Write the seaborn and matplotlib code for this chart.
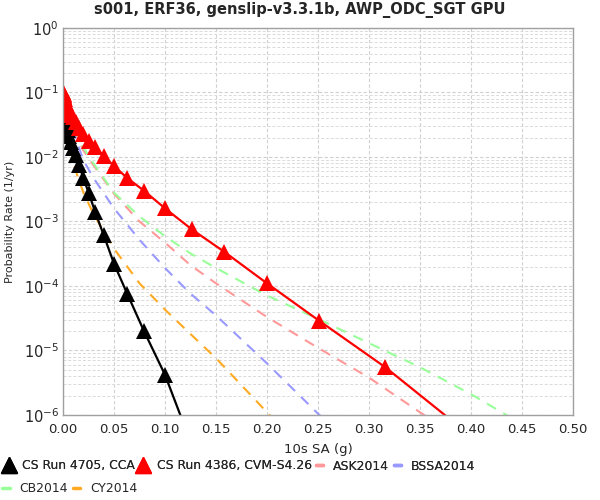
import matplotlib
matplotlib.use("Agg")
import matplotlib.pyplot as plt
from matplotlib.lines import Line2D
import matplotlib.ticker as mticker
import numpy as np
import seaborn as sns

# --------- Datos ---------

# IMs de CyberShake (espaciado log)
cs_sa = [0.0001, 0.00013, 0.00016, 0.0002, 0.00025, 0.00032, 0.0004, 0.0005,
         0.00063, 0.00079, 0.001, 0.0013, 0.0016, 0.002, 0.0025, 0.0032,
         0.004, 0.005, 0.0063, 0.0079, 0.01, 0.0126, 0.0158, 0.02, 0.0251,
         0.0316, 0.0398, 0.0501, 0.0631, 0.0794, 0.1, 0.126, 0.158, 0.2,
         0.251, 0.316, 0.398]

cca_rate = [0.090, 0.089, 0.088, 0.087, 0.085, 0.083, 0.080, 0.077,
            0.073, 0.069, 0.064, 0.058, 0.053, 0.047, 0.042, 0.036,
            0.031, 0.026, 0.021, 0.017, 0.014, 0.0107, 0.0075, 0.0047, 0.0028,
            0.0014, 6.2e-4, 2.2e-4, 7.5e-5, 2.0e-5, 4.2e-6, 3.5e-7, 2e-8, 1e-9,
            1e-11, 1e-13, 1e-15]

cvm_rate = [0.100, 0.100, 0.099, 0.099, 0.098, 0.097, 0.096, 0.094,
            0.092, 0.089, 0.086, 0.082, 0.078, 0.073, 0.068, 0.062,
            0.057, 0.052, 0.047, 0.044, 0.041, 0.035, 0.028, 0.023, 0.018,
            0.0143, 0.0104, 0.0072, 0.0047, 0.0030, 0.0016, 7.6e-4, 3.4e-4, 1.1e-4,
            2.9e-5, 5.5e-6, 5.0e-7]

# Curvas GMPE
gmpe_sa = [0.0001, 0.01, 0.02, 0.03, 0.05, 0.075, 0.1, 0.125, 0.15, 0.2,
           0.25, 0.3, 0.35, 0.4, 0.45, 0.5]

ask_rate = [1.0e-1, 2.8e-2, 1.26e-2, 7.4e-3, 2.7e-3, 1.0e-3, 4.7e-4, 2.1e-4,
            1.1e-4, 3.3e-5, 1.1e-5, 3.8e-6, 1.1e-6, 3.4e-7, 1.0e-7, 3.2e-8]
bssa_rate = [1.0e-1, 2.5e-2, 8.9e-3, 4.7e-3, 1.6e-3, 5.2e-4, 1.9e-4, 7.6e-5,
             3.5e-5, 6.3e-6, 1.05e-6, 2.0e-7, 4e-8, 8e-9, 1.6e-9, 3e-10]
cb_rate = [1.0e-1, 3.2e-2, 1.4e-2, 7.9e-3, 2.8e-3, 1.2e-3, 5.9e-4, 3.2e-4,
           1.9e-4, 7.1e-5, 3.1e-5, 1.3e-5, 5.5e-6, 2.1e-6, 7.2e-7, 2.4e-7]
cy_rate = [1.0e-1, 7.9e-3, 2.8e-3, 1.3e-3, 3.8e-4, 1.1e-4, 4.3e-5, 1.8e-5,
           7.6e-6, 1.1e-6, 1.6e-7, 2.5e-8, 4e-9, 6e-10, 1e-10, 1.5e-11]

gmpe_names = ["ASK2014", "BSSA2014", "CB2014", "CY2014"]
gmpe_rates = [ask_rate, bssa_rate, cb_rate, cy_rate]
gmpe_colors = ["#ff9999", "#9999ff", "#99ff99", "#ffaa22"]

y_ticks = [1e-6, 1e-5, 1e-4, 1e-3, 1e-2, 1e-1, 1e0]

# --------- Figura ---------

sns.set_style("white")
plt.rcParams["font.family"] = ["DejaVu Sans"]

fig = plt.figure(figsize=(6, 5), dpi=100)
ax = fig.add_axes([0.105, 0.17, 0.85, 0.774])

# GMPEs primero (debajo)
for name, rates, col in zip(gmpe_names, gmpe_rates, gmpe_colors):
    sns.lineplot(x=gmpe_sa, y=rates, ax=ax, color=col, linewidth=1.5,
                 linestyle=(0, (5, 4)), estimator=None)

sns.lineplot(x=cs_sa, y=cca_rate, ax=ax, color="black", linewidth=1.6,
             marker="^", markersize=12, markeredgecolor="black",
             markeredgewidth=0, estimator=None)
sns.lineplot(x=cs_sa, y=cvm_rate, ax=ax, color="red", linewidth=1.6,
             marker="^", markersize=12, markeredgecolor="red",
             markeredgewidth=0, estimator=None)

ax.set_yscale("log")
ax.set_xlim(0, 0.5)
ax.set_ylim(1e-6, 1)
ax.set_xticks(np.arange(0, 0.501, 0.05))
ax.xaxis.set_major_formatter(mticker.FormatStrFormatter("%.2f"))
ax.set_yticks(y_ticks)
ax.yaxis.set_minor_locator(mticker.LogLocator(base=10, subs=np.arange(2, 10)))
ax.yaxis.set_minor_formatter(mticker.NullFormatter())
ax.tick_params(axis="x", labelsize=9.5, length=0, pad=6)
ax.tick_params(axis="y", labelsize=10.5, length=0, pad=3)
ax.tick_params(axis="y", which="minor", length=0)

ax.grid(True, which="major", color="#d0d0d0", linestyle=(0, (3, 2)), linewidth=0.8)
ax.grid(True, which="minor", axis="y", color="#dadada", linestyle=(0, (3, 2)), linewidth=0.7)
ax.set_axisbelow(True)
for sp in ax.spines.values():
    sp.set_color("#a0a0a0")
    sp.set_linewidth(1)

ax.set_xlabel("10s SA (g)", fontsize=9.5, labelpad=5)
ax.set_ylabel("Probability Rate (1/yr)", fontsize=8, labelpad=6)
fig.suptitle("s001, ERF36, genslip-v3.3.1b, AWP_ODC_SGT GPU",
             fontsize=10.5, fontweight="bold", x=0.5, y=0.995)

# --------- Leyenda en dos filas ---------

cs_handles = [
    Line2D([], [], color="black", marker="^", linestyle="None", markersize=12),
    Line2D([], [], color="red", marker="^", linestyle="None", markersize=12),
]
g_handles = [Line2D([], [], color=c, linewidth=2.5) for c in gmpe_colors]

leg_kw = dict(frameon=False, fontsize=8.9, handlelength=0.6,
              handletextpad=0.8, columnspacing=0.35, borderaxespad=0,
              borderpad=0)
row1 = fig.legend(cs_handles + g_handles[:2],
                  ["CS Run 4705, CCA", "CS Run 4386, CVM-S4.26"] + gmpe_names[:2],
                  loc="center left", bbox_to_anchor=(0.008, 0.068), ncol=4,
                  **leg_kw)
fig.add_artist(row1)
fig.legend(g_handles[2:], gmpe_names[2:],
           loc="center left", bbox_to_anchor=(0.004, 0.022), ncol=2,
           **leg_kw)

fig.savefig("out.png", dpi=100)
